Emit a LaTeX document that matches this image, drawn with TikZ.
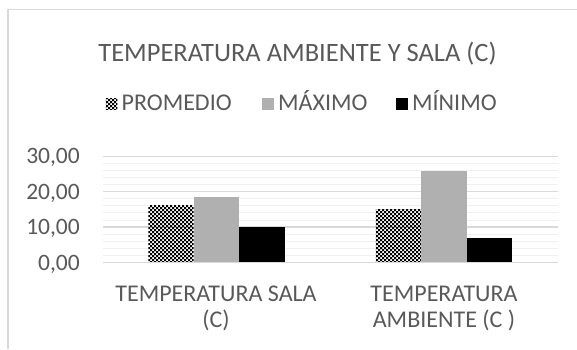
\documentclass[tikz,border=0pt]{standalone}
\usepackage{fontspec}
\setmainfont{Carlito}
\usepackage{tikz}
\usetikzlibrary{patterns,positioning}
\definecolor{chgray}{RGB}{89,89,89}
\definecolor{chgrid}{RGB}{217,217,217}
\definecolor{chminor}{RGB}{240,240,240}
\definecolor{chbar}{RGB}{176,176,176}
\pgfdeclarepatternformonly{finecheck}{\pgfqpoint{-.1pt}{-.1pt}}{\pgfqpoint{4.1pt}{4.1pt}}{\pgfqpoint{4pt}{4pt}}{
  \pgfpathrectangle{\pgfqpoint{0pt}{0pt}}{\pgfqpoint{2pt}{2pt}}
  \pgfpathrectangle{\pgfqpoint{2pt}{2pt}}{\pgfqpoint{2pt}{2pt}}
  \pgfusepath{fill}}
\tikzstyle{chtext} = [text=chgray, inner sep=0pt, font=\fontsize{24}{25.3}\selectfont]
\tikzstyle{chtitle} = [text=chgray, inner sep=0pt, font=\fontsize{26.5}{30}\selectfont]
\tikzstyle{gridmajor} = [draw=chgrid, line width=1.5pt]
\tikzstyle{gridminor} = [draw=chminor, line width=1pt]
\tikzstyle{barprom} = [pattern=finecheck, pattern color=black]
\tikzstyle{barmax} = [fill=chbar]
\tikzstyle{barmin} = [fill=black]
\tikzstyle{legkey} = [rectangle, minimum width=11.5pt, minimum height=11.5pt, inner sep=0pt]

\begin{document}
\begin{tikzpicture}[x=1pt, y=1pt]
\useasboundingbox (0,0) rectangle (577,349);
% Frame
\draw[chgrid, line width=1.5pt] (8,0) -- (8,339.5) -- (577,339.5);

% Title
\node[chtitle, anchor=base] (title) at (297.5,287.2) {TEMPERATURA AMBIENTE Y SALA (C)};

% Legend
\node[legkey, barprom] (kprom) at (111.5,244.8) {};
\node[chtext, right=4pt of kprom.south east, anchor=base west] (tprom) {PROMEDIO};
\node[legkey, barmax] (kmax) at (268,244.8) {};
\node[chtext, right=4pt of kmax.south east, anchor=base west] (tmax) {MÁXIMO};
\node[legkey, barmin] (kmin) at (402,244.8) {};
\node[chtext, right=4pt of kmin.south east, anchor=base west] (tmin) {MÍNIMO};

% Gridlines
\foreach \v in {2,4,...,28} {
  \draw[gridminor] (102.7,{86.5+3.54*\v}) -- (557.7,{86.5+3.54*\v});
}
\foreach \v in {0,10,20,30} {
  \draw[gridmajor] (102.7,{86.5+3.54*\v}) -- (557.7,{86.5+3.54*\v});
}

% Axis labels
\node[chtext, anchor=base east, font=\fontsize{23.5}{28}\selectfont] (y30) at (80,185.2) {30,00};
\node[chtext, anchor=base east, font=\fontsize{23.5}{28}\selectfont] (y20) at (80,149.8) {20,00};
\node[chtext, anchor=base east, font=\fontsize{23.5}{28}\selectfont] (y10) at (80,114.4) {10,00};
\node[chtext, anchor=base east, font=\fontsize{23.5}{28}\selectfont] (y0) at (80,79) {0,00};

% Bars
\fill[barprom] (148.3,86.5) rectangle (193.7,143.1);
\fill[barmax] (193.7,86.5) rectangle (239.2,151.6);
\fill[barmin] (239.2,86.5) rectangle (284.7,122.3);
\fill[barprom] (375.8,86.5) rectangle (421.3,140.0);
\fill[barmax] (421.3,86.5) rectangle (466.8,178.2);
\fill[barmin] (466.8,86.5) rectangle (512.3,110.6);
\draw[gridmajor] (102.7,86.5) -- (557.7,86.5);

% Categories
\node[chtext, anchor=base, align=center] (csala) at (216,22) {TEMPERATURA SALA\\(C)};
\node[chtext, anchor=base, align=center] (camb) at (444,22) {TEMPERATURA\\AMBIENTE (C )};
\end{tikzpicture}
\end{document}
